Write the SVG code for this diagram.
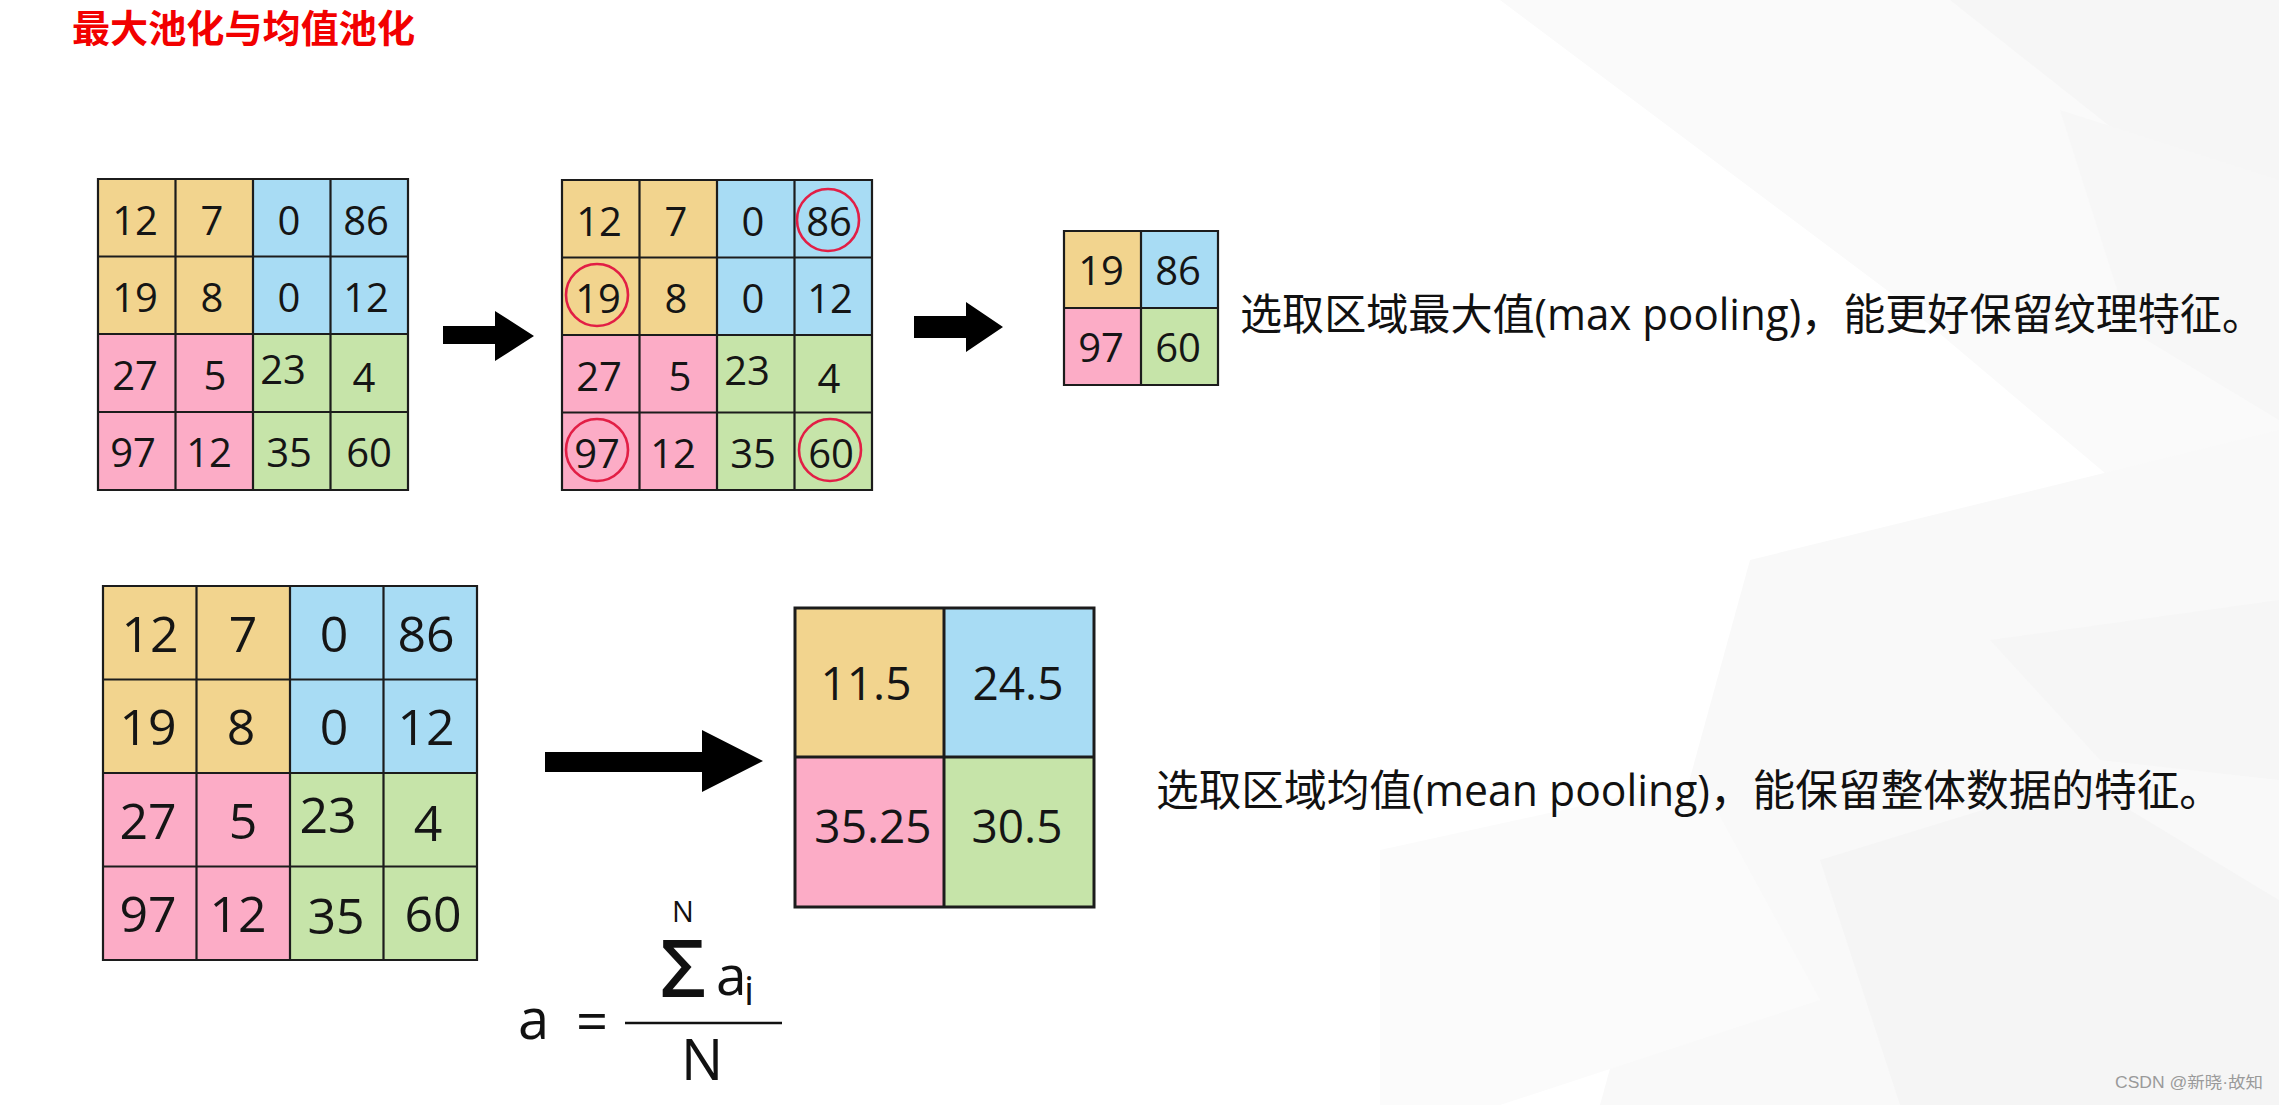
<svg xmlns="http://www.w3.org/2000/svg" width="2279" height="1105" viewBox="0 0 2279 1105">
<style>
.o{fill:#F2D48E}.b{fill:#A8DCF4}.p{fill:#FCACC6}.g{fill:#C6E4A9}
.ln{stroke:#1c1c1c;stroke-width:2.2;fill:none}
.n{font-family:"Open Sans","Noto Sans",sans-serif;fill:#151515;text-anchor:middle}
.s38{font-size:40px}.s39{font-size:40px}.s49{font-size:50px}.s45{font-size:46px}
.circ{fill:none;stroke:#E21E45;stroke-width:2.6}
.arr{fill:#000}
.desc{font-family:"Open Sans","Noto Sans CJK SC",sans-serif;font-size:43px;fill:#111}
.f{font-family:"Open Sans","Noto Sans",sans-serif;fill:#111}
</style>
<g id="background">
<rect x="0" y="0" width="2279" height="1105" fill="#ffffff"/>
<polygon points="1500,0 2279,0 2279,620 1900,300" fill="#fafafa"/>
<polygon points="1950,0 2279,0 2279,260" fill="#f6f6f6"/>
<polygon points="2060,110 2279,180 2279,420 2130,330" fill="#f7f7f7"/>
<polygon points="1750,560 2279,430 2279,1105 1600,1105" fill="#f9f9f9"/>
<polygon points="1820,860 2080,780 2279,900 2279,1105 1900,1105" fill="#f5f5f5"/>
<polygon points="1990,640 2279,600 2279,780 2100,760" fill="#f6f6f6"/>
<polygon points="1380,850 1700,780 1820,1000 1500,1105 1380,1105" fill="#fbfbfb"/>
</g>
<text id="title" x="72" y="42" font-family="'Noto Sans CJK SC',sans-serif" font-size="38" font-weight="bold" fill="#F20000" textLength="343" lengthAdjust="spacingAndGlyphs">最大池化与均值池化</text>
<g id="grid-input-max">
<rect class="o" x="98" y="179" width="155" height="155"/>
<rect class="b" x="253" y="179" width="155" height="155"/>
<rect class="p" x="98" y="334" width="155" height="156"/>
<rect class="g" x="253" y="334" width="155" height="156"/>
<path class="ln" d="M98,179H408V490H98Z M175.5,179V490 M253,179V490 M330.5,179V490 M98,256.5H408 M98,334H408 M98,412H408"/>
<g class="n s38">
<text x="135" y="235">12</text><text x="212" y="235">7</text><text x="289" y="235">0</text><text x="366" y="235">86</text>
<text x="135" y="312">19</text><text x="212" y="312">8</text><text x="289" y="312">0</text><text x="366" y="312">12</text>
<text x="135" y="390">27</text><text x="215" y="390">5</text><text x="283" y="384">23</text><text x="364" y="392">4</text>
<text x="133" y="467">97</text><text x="209" y="467">12</text><text x="289" y="467">35</text><text x="369" y="467">60</text>
</g>
</g>
<g id="grid-max-selected">
<rect class="o" x="562" y="180" width="155" height="155"/>
<rect class="b" x="717" y="180" width="155" height="155"/>
<rect class="p" x="562" y="335" width="155" height="155"/>
<rect class="g" x="717" y="335" width="155" height="155"/>
<path class="ln" d="M562,180H872V490H562Z M639.5,180V490 M717,180V490 M794.5,180V490 M562,257.5H872 M562,335H872 M562,412.5H872"/>
<g class="n s38">
<text x="599" y="236">12</text><text x="676" y="236">7</text><text x="753" y="236">0</text><text x="829" y="236">86</text>
<text x="598" y="313">19</text><text x="676" y="313">8</text><text x="753" y="313">0</text><text x="830" y="313">12</text>
<text x="599" y="391">27</text><text x="680" y="391">5</text><text x="747" y="385">23</text><text x="829" y="393">4</text>
<text x="597" y="468">97</text><text x="673" y="468">12</text><text x="753" y="468">35</text><text x="831" y="468">60</text>
</g>
<circle class="circ" cx="828" cy="220" r="31"/>
<circle class="circ" cx="597" cy="295" r="31"/>
<circle class="circ" cx="597" cy="450" r="31"/>
<circle class="circ" cx="830" cy="450" r="31"/>
</g>
<g id="grid-max-output">
<rect class="o" x="1064" y="231" width="77" height="77"/>
<rect class="b" x="1141" y="231" width="77" height="77"/>
<rect class="p" x="1064" y="308" width="77" height="77"/>
<rect class="g" x="1141" y="308" width="77" height="77"/>
<path class="ln" d="M1064,231H1218V385H1064Z M1141,231V385 M1064,308H1218"/>
<g class="n s39">
<text x="1101" y="285">19</text><text x="1178" y="285">86</text>
<text x="1101" y="362">97</text><text x="1178" y="362">60</text>
</g>
</g>
<text id="max-desc" class="desc" x="1240" y="330" textLength="1024" lengthAdjust="spacingAndGlyphs">选取区域最大值(max pooling)，能更好保留纹理特征。</text>
<g id="grid-input-mean">
<rect class="o" x="103" y="586" width="187" height="187"/>
<rect class="b" x="290" y="586" width="187" height="187"/>
<rect class="p" x="103" y="773" width="187" height="187"/>
<rect class="g" x="290" y="773" width="187" height="187"/>
<path class="ln" d="M103,586H477V960H103Z M196.5,586V960 M290,586V960 M383.5,586V960 M103,679.5H477 M103,773H477 M103,866.5H477"/>
<g class="n s49">
<text x="150" y="652">12</text><text x="243" y="652">7</text><text x="334" y="652">0</text><text x="426" y="652">86</text>
<text x="148" y="745">19</text><text x="241" y="745">8</text><text x="334" y="745">0</text><text x="426" y="745">12</text>
<text x="148" y="839">27</text><text x="243" y="839">5</text><text x="328" y="833">23</text><text x="428" y="841">4</text>
<text x="148" y="932">97</text><text x="238" y="932">12</text><text x="336" y="934">35</text><text x="433" y="932">60</text>
</g>
</g>
<g id="grid-mean-output">
<rect class="o" x="795" y="608" width="149" height="149"/>
<rect class="b" x="944" y="608" width="150" height="149"/>
<rect class="p" x="795" y="757" width="149" height="150"/>
<rect class="g" x="944" y="757" width="150" height="150"/>
<path class="ln" d="M795,608H1094V907H795Z M944,608V907 M795,757H1094" style="stroke-width:3"/>
<g class="n s45">
<text x="866" y="700">11.5</text><text x="1018" y="700">24.5</text>
<text x="873" y="843">35.25</text><text x="1017" y="843">30.5</text>
</g>
</g>
<text id="mean-desc" class="desc" x="1156" y="806" textLength="1066" lengthAdjust="spacingAndGlyphs">选取区域均值(mean pooling)，能保留整体数据的特征。</text>
<g id="connectors">
<polygon class="arr" points="443,326 495,326 495,311 534,336 495,361 495,344 443,344"/>
<polygon class="arr" points="914,316 966,316 966,302 1003,327 966,352 966,338 914,338"/>
<polygon class="arr" points="545,752 702,752 702,730 763,761 702,792 702,772 545,772"/>
</g>
<g id="formula">
<text class="f" x="518" y="1039" font-size="56">a</text>
<text class="f" x="592" y="1041" font-size="56" text-anchor="middle">=</text>
<line x1="625" y1="1023" x2="782" y2="1023" stroke="#111" stroke-width="2.5"/>
<text class="f" x="683" y="922" font-size="29" text-anchor="middle">N</text>
<text class="f" x="683" y="997" font-size="80" font-weight="600" text-anchor="middle">Σ</text>
<text class="f" x="716" y="995" font-size="55">a</text>
<text class="f" x="744" y="1005" font-size="40">i</text>
<text class="f" x="702" y="1080" font-size="56" text-anchor="middle">N</text>
</g>
<text id="watermark" x="2115" y="1088" font-family="'Liberation Sans','Noto Sans CJK SC',sans-serif" font-size="16" fill="#9a9a9a" textLength="148" lengthAdjust="spacingAndGlyphs">CSDN @新晓·故知</text>
</svg>
